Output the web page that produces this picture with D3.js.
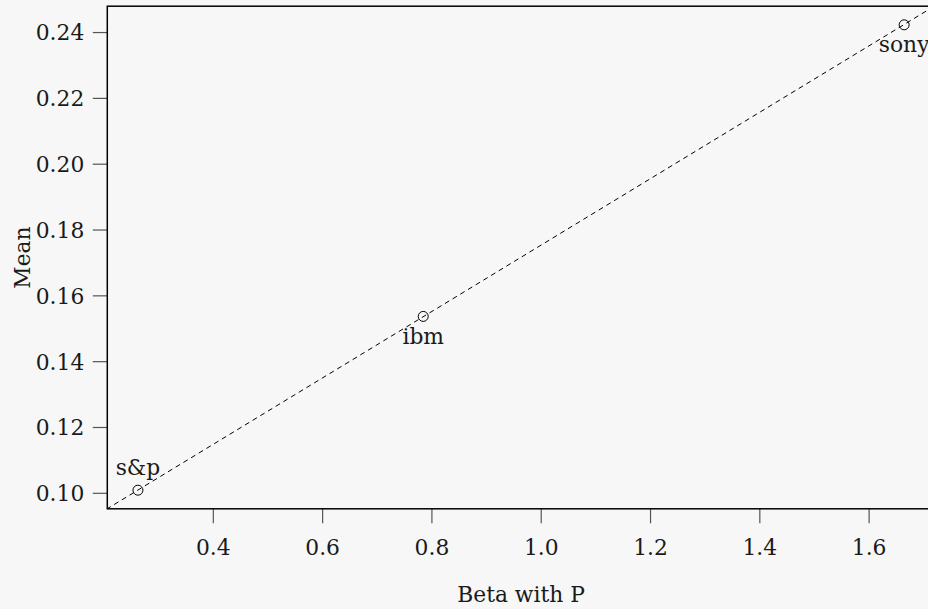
<!DOCTYPE html>
<html><head><meta charset="utf-8">
<script src="https://cdn.jsdelivr.net/npm/d3@7"></script>
<style>
html,body{margin:0;padding:0;background:#f7f7f7;}
svg{display:block;}
text{font-family:"DejaVu Serif",serif;fill:#1a1a1a;}
</style></head>
<body>
<svg id="chart" width="928" height="609"></svg>
<script>
const names = ["s&p", "ibm", "sony"];
const betas = [0.263, 0.785, 1.665];
const means = [0.1008, 0.1536, 0.2422];
const labelPos = ["above", "below", "below"];
const xTicks = [0.4, 0.6, 0.8, 1.0, 1.2, 1.4, 1.6];
const yTicks = [0.10, 0.12, 0.14, 0.16, 0.18, 0.20, 0.22, 0.24];
const lineIntercept = 0.0743;
const lineSlope = 0.1009;

const svg = d3.select("#chart");
const W = 928, H = 609;
const plot = {left: 107.3, right: 934.8, top: 6.2, bottom: 508.8};
const FS = 21.8;

function ext(arr){const mn=d3.min(arr), mx=d3.max(arr), r=mx-mn; return [mn-0.04*r, mx+0.04*r];}
const x = d3.scaleLinear().domain(ext(betas)).range([plot.left, plot.right]);
const y = d3.scaleLinear().domain(ext(means)).range([plot.bottom, plot.top]);

svg.append("rect").attr("width", W).attr("height", H).attr("fill", "#f7f7f7");

svg.append("clipPath").attr("id","clip").append("rect")
  .attr("x", plot.left).attr("y", plot.top)
  .attr("width", plot.right-plot.left).attr("height", plot.bottom-plot.top);

// dashed line
const xd = x.domain();
svg.append("line").attr("clip-path","url(#clip)")
  .attr("x1", x(xd[0]-0.1)).attr("y1", y(lineIntercept+lineSlope*(xd[0]-0.1)))
  .attr("x2", x(xd[1]+0.1)).attr("y2", y(lineIntercept+lineSlope*(xd[1]+0.1)))
  .attr("stroke", "#000").attr("stroke-width", 1).attr("stroke-dasharray", "5,4");

// points
const data = names.map((n,i)=>({n, b:betas[i], m:means[i], pos:labelPos[i]}));
svg.append("g").selectAll("circle").data(data).join("circle")
  .attr("cx", d=>x(d.b)).attr("cy", d=>y(d.m)).attr("r", 5)
  .attr("fill", "none").attr("stroke", "#000").attr("stroke-width", 1);

svg.append("g").selectAll("text").data(data).join("text")
  .attr("x", d=>x(d.b)).attr("y", d=>y(d.m) + (d.pos==="above" ? -15.5 : 27.5))
  .attr("text-anchor", "middle").attr("font-size", FS).text(d=>d.n);

// axes
const xAxis = svg.append("g").attr("transform", `translate(0,${plot.bottom})`)
  .call(d3.axisBottom(x).tickValues(xTicks).tickFormat(d3.format(".1f")).tickSize(14.5).tickPadding(8));
const yAxis = svg.append("g").attr("transform", `translate(${plot.left},0)`)
  .call(d3.axisLeft(y).tickValues(yTicks).tickFormat(d3.format(".2f")).tickSize(14.5).tickPadding(8.5));
[xAxis, yAxis].forEach(a=>{
  a.select(".domain").remove();
  a.selectAll(".tick line").attr("stroke", "#555").attr("stroke-width", 1.2);
  a.selectAll(".tick text").attr("font-size", FS).attr("font-family", "DejaVu Serif").attr("fill", "#1a1a1a");
});
xAxis.selectAll(".tick text").attr("dy", null).attr("y", 46);
yAxis.selectAll(".tick text").attr("dy", "0.36em");

// frame
svg.append("rect").attr("x", plot.left).attr("y", plot.top)
  .attr("width", plot.right-plot.left).attr("height", plot.bottom-plot.top)
  .attr("fill", "none").attr("stroke", "#000").attr("stroke-width", 1.5);

// titles
svg.append("text").attr("x", (plot.left+plot.right)/2).attr("y", 602).attr("text-anchor", "middle")
  .attr("font-size", FS).text("Beta with P");
svg.append("text").attr("transform", `translate(30,${(plot.top+plot.bottom)/2}) rotate(-90)`)
  .attr("text-anchor", "middle").attr("font-size", FS).text("Mean");
</script>
</body></html>
